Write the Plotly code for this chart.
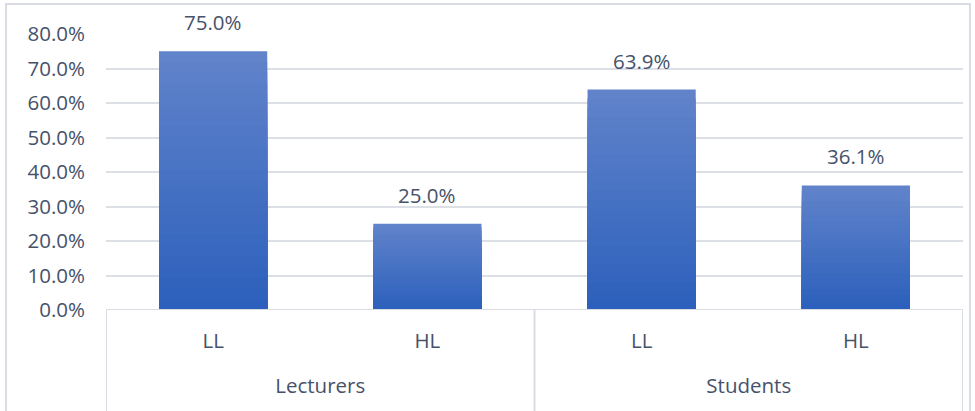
import plotly.graph_objects as go

# Data
groups = ["Lecturers", "Lecturers", "Students", "Students"]
levels = ["LL", "HL", "LL", "HL"]
shares = [75.0, 25.0, 63.9, 36.1]
y_ticks = [0, 10, 20, 30, 40, 50, 60, 70, 80]

W, H = 975, 411
L, R, T, B = 106, 12, 34, 101
TEXT = "#46526A"
FONT = "Open Sans"
FS = 20.5
LINE = "#D9DDE3"

pos = list(range(len(shares)))

# group centres and boundaries along the category axis
group_names = []
group_idx = {}
for i, g in enumerate(groups):
    if g not in group_idx:
        group_idx[g] = []
        group_names.append(g)
    group_idx[g].append(i)
group_centres = [sum(group_idx[g]) / len(group_idx[g]) for g in group_names]
bounds = [min(group_idx[g]) - 0.5 for g in group_names] + [pos[-1] + 0.5]

# vertical gradient: top colour -> bottom colour, built from stacked overlays
top_rgb = (96, 131, 202)
bot_rgb = (45, 96, 188)
steps = 24

fig = go.Figure()
for i in range(steps):
    f = 1 - i / steps  # fraction of bar height
    t = i / (steps - 1)
    c = tuple(round(top_rgb[k] + (bot_rgb[k] - top_rgb[k]) * t) for k in range(3))
    fig.add_trace(go.Bar(
        x=pos,
        y=[v * f for v in shares],
        marker=dict(color="rgb(%d,%d,%d)" % c, line=dict(width=0)),
        width=0.505,
        hoverinfo="skip",
        showlegend=False,
    ))

# invisible trace carrying the group axis
fig.add_trace(go.Scatter(
    x=group_centres, y=[0] * len(group_centres), xaxis="x2",
    mode="markers", marker=dict(opacity=0), hoverinfo="skip", showlegend=False,
))

plot_w = W - L - R
plot_h = H - T - B

annotations = [
    dict(
        x=p, y=v, xref="x", yref="y",
        text="%.1f%%" % v,
        showarrow=False,
        yanchor="bottom",
        yshift=13,
        font=dict(family=FONT, size=FS, color=TEXT),
    )
    for p, v in zip(pos, shares)
]

shapes = [
    # outer chart frame
    dict(
        type="rect",
        xref="paper", yref="paper",
        x0=(6 - L) / plot_w, x1=(970 - L) / plot_w,
        y0=(H - B - 420) / plot_h, y1=(H - B - 4) / plot_h,
        line=dict(color=LINE, width=2),
        fillcolor="rgba(0,0,0,0)",
        layer="below",
    ),
    # category axis baseline
    dict(
        type="line", xref="x", yref="y",
        x0=bounds[0], x1=bounds[-1], y0=0, y1=0,
        line=dict(color=LINE, width=2),
    ),
]
# group dividers below the axis
for b in bounds:
    shapes.append(dict(
        type="line", xref="x", yref="paper",
        x0=b, x1=b, y0=0, y1=(H - B - 420) / plot_h,
        line=dict(color=LINE, width=2),
    ))

xrange = [bounds[0], bounds[-1]]

fig.update_layout(
    width=W,
    height=H,
    margin=dict(l=L, r=R, t=T, b=B),
    paper_bgcolor="white",
    plot_bgcolor="white",
    barmode="overlay",
    font=dict(family=FONT, size=FS, color=TEXT),
    xaxis=dict(
        range=xrange,
        tickvals=pos,
        ticktext=levels,
        showgrid=False,
        zeroline=False,
        showline=False,
        ticks="",
        ticklabelstandoff=16,
        tickfont=dict(family=FONT, size=FS, color=TEXT),
    ),
    xaxis2=dict(
        range=xrange,
        overlaying="x",
        anchor="y",
        side="bottom",
        tickvals=group_centres,
        ticktext=group_names,
        showgrid=False,
        zeroline=False,
        showline=False,
        ticks="",
        ticklabelstandoff=61,
        tickfont=dict(family=FONT, size=FS, color=TEXT),
    ),
    yaxis=dict(
        range=[0, 80],
        tickvals=y_ticks,
        ticktext=["%.1f%%" % v for v in y_ticks],
        showgrid=True,
        gridcolor="#DCE0E6",
        gridwidth=2,
        zeroline=False,
        showline=False,
        ticks="",
        ticklabelstandoff=20,
        tickfont=dict(family=FONT, size=FS, color=TEXT),
    ),
    annotations=annotations,
    shapes=shapes,
)

fig.write_html("out.html")
